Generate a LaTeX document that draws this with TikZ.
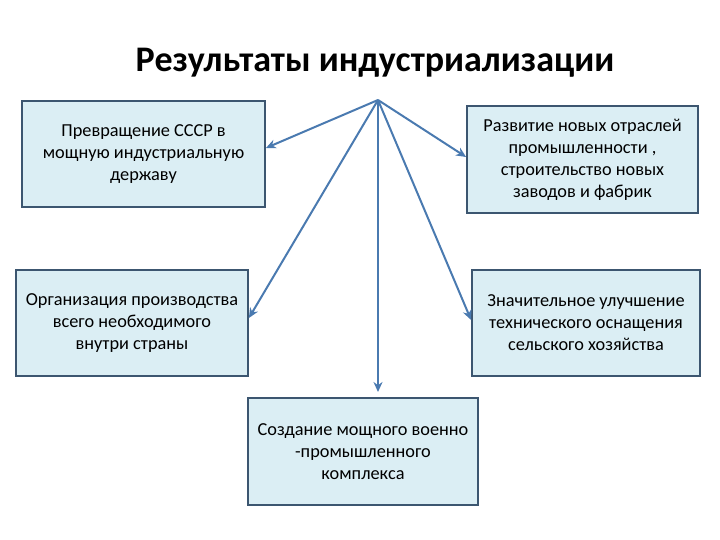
\documentclass[tikz,border=0pt]{standalone}
\usepackage{fontspec}
\setmainfont{Carlito}
\usetikzlibrary{arrows.meta}
\definecolor{boxfill}{HTML}{DBEEF4}
\definecolor{boxline}{HTML}{3C5670}
\definecolor{arrowc}{HTML}{4A7AB0}
\tikzset{
  resbox/.style={draw=boxline, line width=1.8pt, fill=boxfill, align=center, font=\fontsize{18.3}{22}\selectfont, inner sep=0pt},
  conn/.style={draw=arrowc, line width=2pt, -{Stealth[length=10pt,width=9pt]}}
}
\begin{document}
\begin{tikzpicture}[x=1pt,y=-1pt]
\useasboundingbox (0,0) rectangle (720,540);
\node[font=\fontsize{36}{40}\bfseries\selectfont] (title) at (375,63) {Результаты индустриализации};
\coordinate (apex) at (378,100);
\node[resbox, minimum width=243pt, minimum height=106pt] (b1) at (143.5,154) {Превращение СССР в\\мощную индустриальную\\державу};
\node[resbox, minimum width=231pt, minimum height=107pt] (b2) at (582.5,159.5) {Развитие новых отраслей\\промышленности ,\\строительство новых\\заводов и фабрик};
\node[resbox, minimum width=232pt, minimum height=106pt] (b3) at (132,323) {Организация производства\\всего необходимого\\внутри страны};
\node[resbox, minimum width=228pt, minimum height=106pt] (b4) at (586,323) {Значительное улучшение\\технического оснащения\\сельского хозяйства};
\node[resbox, minimum width=230pt, minimum height=107pt] (b5) at (363,451.5) {Создание мощного военно\\-промышленного\\комплекса};
\draw[conn] (apex) -- (b1.east |- 0,148);
\draw[conn] (apex) -- (b2.west |- 0,157);
\draw[conn] (apex) -- (b3.east |- 0,318);
\draw[conn] (apex) -- (b4.west |- 0,320);
\draw[conn] (apex) -- (378,392);
\end{tikzpicture}
\end{document}
